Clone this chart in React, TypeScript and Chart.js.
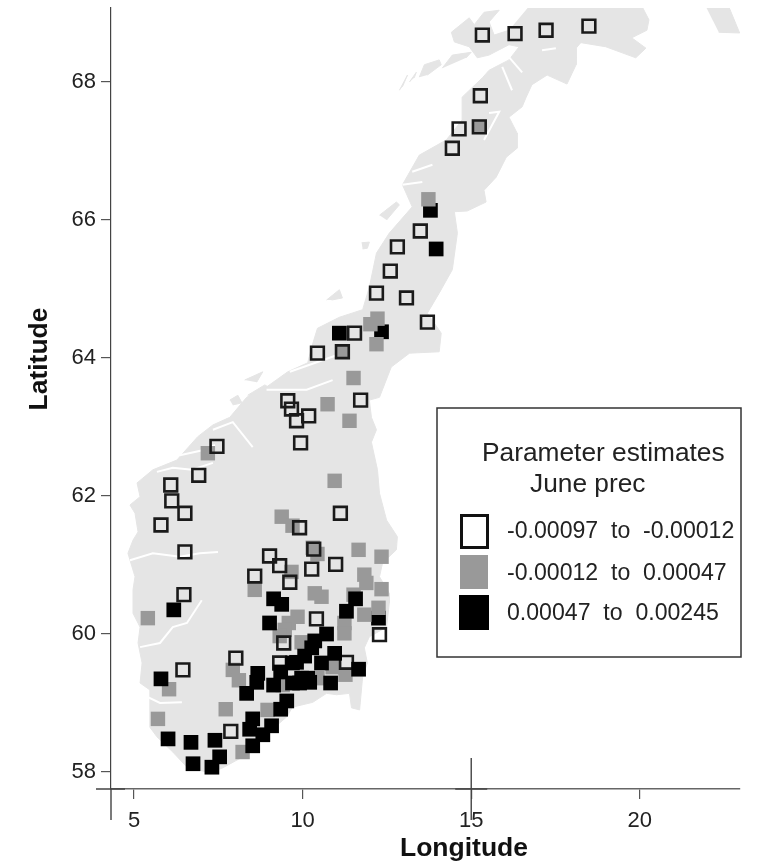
import React, { useEffect, useRef } from "react";
import { Chart, registerables } from "chart.js";

Chart.register(...registerables);

type P = [number, number];

const lonTicks = [5, 10, 15, 20];
const latTicks = [58, 60, 62, 64, 66, 68];
const xTitle = "Longitude";
const yTitle = "Latitude";
const legendTitle = ["Parameter estimates", "June prec"];
const legendLabels = ["-0.00097  to  -0.00012", "-0.00012  to  0.00047", "0.00047  to  0.00245"];

const openSites: P[] = [
  [15.33, 68.68], [16.3, 68.7], [17.22, 68.75], [18.49, 68.81], [15.27, 67.8], [14.64, 67.32], [15.24, 67.35],
  [14.44, 67.04], [13.49, 65.84], [12.81, 65.61], [12.6, 65.26], [12.19, 64.94], [13.08, 64.87], [13.7, 64.52],
  [11.54, 64.36], [10.44, 64.07], [11.18, 64.09], [11.72, 63.39], [9.56, 63.38], [9.67, 63.26], [10.18, 63.16],
  [9.82, 63.09], [9.94, 62.77], [7.46, 62.72], [6.92, 62.3], [6.09, 62.16], [6.12, 61.93], [6.51, 61.75],
  [5.8, 61.58], [11.12, 61.75], [9.91, 61.54], [6.51, 61.19], [10.33, 61.23], [9.02, 61.13], [9.32, 60.99],
  [10.27, 60.94], [10.98, 61.01], [8.58, 60.84], [9.62, 60.75], [6.48, 60.57], [10.41, 60.22], [12.28, 59.99],
  [9.44, 59.87], [6.45, 59.48], [8.02, 59.65], [9.32, 59.58], [11.3, 59.59], [7.87, 58.59],
];

const greySites: P[] = [
  [13.73, 66.3], [15.24, 67.35], [12.22, 64.57], [12.01, 64.49], [12.19, 64.2], [11.51, 63.71], [10.74, 63.33],
  [11.39, 63.09], [11.18, 64.09], [7.19, 62.62], [10.95, 62.22], [9.38, 61.7], [9.7, 61.57], [11.66, 61.22],
  [12.34, 61.12], [10.44, 61.16], [10.3, 61.25], [9.67, 60.9], [8.58, 60.64], [10.36, 60.59], [10.56, 60.54],
  [11.83, 60.86], [11.89, 60.74], [12.34, 60.65], [11.51, 60.57], [11.83, 60.28], [12.25, 60.38], [11.24, 60.16],
  [11.24, 60.01], [9.85, 60.25], [9.59, 60.16], [9.47, 60.06], [9.32, 59.97], [9.97, 59.88], [5.41, 60.23],
  [6.04, 59.2], [7.93, 59.48], [8.11, 59.33], [9.41, 59.26], [10.44, 59.36], [10.89, 59.52], [11.27, 59.41],
  [7.72, 58.91], [5.71, 58.77], [8.96, 58.9], [8.22, 58.29],
];

const blackSitesUnder: P[] = [[13.79, 66.14], [11.09, 64.36], [12.34, 64.38], [12.25, 60.23]];

const blackSites: P[] = [
  [13.96, 65.58], [6.18, 60.35], [5.8, 59.35], [9.14, 60.51], [9.38, 60.43], [9.02, 60.16], [11.57, 60.51],
  [11.3, 60.33], [10.71, 60.0], [10.36, 59.9], [10.27, 59.8], [10.06, 59.68], [9.82, 59.59], [10.95, 59.72],
  [10.56, 59.58], [11.66, 59.49], [10.83, 59.29], [9.35, 59.45], [8.67, 59.43], [8.64, 59.3], [9.14, 59.26],
  [8.34, 59.14], [9.7, 59.29], [9.97, 59.36], [10.15, 59.36], [9.91, 59.29], [10.21, 59.3], [9.53, 59.03],
  [9.35, 58.91], [8.52, 58.77], [8.43, 58.62], [9.08, 58.67], [8.82, 58.54], [8.52, 58.38], [6.01, 58.48],
  [6.69, 58.43], [7.4, 58.46], [7.54, 58.22], [6.75, 58.12], [7.31, 58.07], [9.7, 59.58],
];

const mainland: P[] = [
  [16.72, 69.1], [20.06, 69.1], [20.27, 68.9], [20.21, 68.75], [19.76, 68.64], [20.18, 68.49], [19.88, 68.35],
  [18.99, 68.51], [18.25, 68.57], [18.11, 68.49], [18.11, 68.25], [17.84, 67.97], [17.25, 68.1], [16.8, 67.96],
  [16.63, 67.78], [16.51, 67.64], [16.12, 67.49], [16.36, 67.26], [16.36, 67.04], [16.04, 66.91], [15.74, 66.62],
  [15.38, 66.43], [15.44, 66.26], [14.88, 66.13], [14.5, 66.12], [14.59, 65.81], [14.44, 65.28], [14.05, 64.94],
  [13.7, 64.65], [14.11, 64.36], [14.05, 64.09], [13.17, 64.07], [12.63, 63.87], [12.28, 63.43], [11.98, 63.39],
  [12.04, 63.14], [12.19, 62.96], [12.04, 62.78], [12.22, 62.38], [12.28, 62.04], [12.49, 61.65], [12.81, 61.41],
  [12.78, 61.22], [12.37, 61.03], [12.28, 60.83], [12.57, 60.59], [12.57, 60.45], [12.49, 60.1], [11.98, 59.96],
  [11.83, 59.8], [11.92, 59.58], [11.78, 59.38], [11.69, 58.9], [11.45, 58.93], [11.39, 59.14], [11.01, 59.12],
  [10.71, 59.14], [10.3, 59.01], [9.7, 58.94], [9.53, 58.8], [8.73, 58.46], [8.34, 58.25], [7.63, 58.06],
  [7.25, 57.99], [6.57, 58.07], [6.15, 58.29], [5.68, 58.51], [5.47, 58.65], [5.47, 59.0], [5.47, 59.19],
  [5.18, 59.29], [5.24, 59.58], [5.12, 59.87], [5.18, 60.1], [4.97, 60.3], [4.97, 60.64], [5.03, 60.83],
  [4.82, 61.17], [4.97, 61.36], [5.12, 61.48], [5.03, 61.75], [4.88, 61.87], [5.18, 61.99], [5.09, 62.19],
  [5.56, 62.38], [6.27, 62.52], [6.89, 62.86], [7.34, 63.03], [7.84, 63.14], [8.34, 63.43], [8.93, 63.58],
  [9.56, 63.8], [10.15, 63.93], [10.27, 64.16], [10.44, 64.43], [11.09, 64.59], [11.78, 64.7], [11.98, 65.03],
  [12.19, 65.52], [12.57, 65.81], [13.25, 66.19], [12.96, 66.51], [13.46, 66.94], [14.26, 67.16], [14.73, 67.45],
  [14.73, 67.78], [15.33, 68.06], [15.53, 68.17], [16.12, 68.32], [16.42, 68.51], [16.12, 68.54], [15.53, 68.39],
  [15.18, 68.35], [14.94, 68.51], [14.5, 68.58], [14.41, 68.72], [14.94, 68.93], [15.09, 68.83], [15.38, 69.01],
  [15.83, 69.04], [15.53, 68.87], [15.68, 68.68], [16.12, 68.75],
];

const islands: P[][] = [
  [[14.14, 68.2], [14.44, 68.39], [15.0, 68.43], [14.85, 68.35]],
  [[13.46, 68.07], [13.61, 68.25], [14.05, 68.32], [14.11, 68.25], [13.7, 68.1]],
  [[13.17, 68.0], [13.37, 68.14], [13.31, 68.06]],
  [[12.87, 67.88], [13.11, 68.1], [12.96, 67.93]],
  [[21.95, 69.1], [22.63, 69.1], [22.96, 68.71], [22.34, 68.72]],
  [[11.75, 65.67], [11.98, 65.68], [11.92, 65.59], [11.78, 65.58]],
  [[12.28, 66.07], [12.78, 66.26], [12.87, 66.22], [12.49, 66.0]],
  [[10.71, 64.84], [11.09, 64.99], [11.18, 64.87], [10.86, 64.84]],
  [[8.28, 63.68], [8.82, 63.8], [8.64, 63.65]],
  [[8.37, 63.46], [8.88, 63.61], [9.11, 63.54], [8.67, 63.39]],
  [[7.84, 63.39], [8.08, 63.46], [8.2, 63.35], [7.93, 63.32]],
];

const fjords: P[][] = [
  [[4.88, 61.07], [5.56, 61.17], [6.36, 61.12], [6.95, 61.17], [7.49, 61.19]],
  [[5.68, 62.35], [6.15, 62.41], [6.72, 62.38], [7.34, 62.48]],
  [[6.36, 62.59], [7.1, 62.67], [7.4, 62.74]],
  [[7.34, 62.96], [7.93, 63.07], [8.52, 62.71]],
  [[5.18, 59.81], [5.77, 59.87], [6.15, 60.1], [6.57, 60.16], [7.01, 60.49]],
  [[5.18, 59.14], [5.77, 59.0], [6.42, 59.01]],
  [[9.62, 63.8], [11.01, 64.04]],
  [[8.93, 63.54], [10.12, 63.54], [10.89, 63.68]],
  [[16.12, 68.36], [16.51, 68.14]],
  [[15.92, 68.22], [16.21, 67.88]],
  [[17.1, 68.46], [17.51, 68.49]],
  [[15.53, 67.55], [15.83, 67.57], [15.38, 67.16]],
  [[13.25, 66.7], [13.85, 66.8]],
  [[12.96, 66.51], [13.55, 66.55]],
];

const toXY = (pts: P[]) => pts.map(([x, y]) => ({ x, y }));
const FONT = '"Liberation Sans", Arial, sans-serif';
const LAND = "#e5e5e5";
const INK = "#222222";
const GREY = "#999999";
const AXIS = "#666666";

const decorations = {
  id: "decorations",
  afterDraw(chart: any) {
    const { ctx, scales, chartArea } = chart;
    const x = scales.x;
    ctx.save();
    ctx.strokeStyle = "#444444";
    ctx.lineWidth = 1.4;
    ctx.beginPath();
    ctx.moveTo(chartArea.left, chartArea.bottom);
    ctx.lineTo(chartArea.left, 820);
    ctx.moveTo(96, chartArea.bottom);
    ctx.lineTo(chartArea.left + 14, chartArea.bottom);
    const x15 = x.getPixelForValue(15);
    ctx.moveTo(x15, 758);
    ctx.lineTo(x15, 820);
    ctx.moveTo(x15 - 16, chartArea.bottom);
    ctx.lineTo(x15 + 16, chartArea.bottom);
    ctx.stroke();

    ctx.fillStyle = "#111111";
    ctx.font = `bold 26.5px ${FONT}`;
    ctx.textAlign = "center";
    ctx.textBaseline = "middle";
    ctx.fillText(xTitle, 464, 849);
    ctx.save();
    ctx.translate(40, 359);
    ctx.rotate(-Math.PI / 2);
    ctx.fillText(yTitle, 0, 0);
    ctx.restore();

    ctx.fillStyle = "#ffffff";
    ctx.strokeStyle = "#333333";
    ctx.lineWidth = 1.5;
    ctx.fillRect(437, 408, 304, 249);
    ctx.strokeRect(437, 408, 304, 249);
    ctx.textAlign = "left";
    ctx.textBaseline = "alphabetic";
    ctx.fillStyle = INK;
    ctx.font = `26.3px ${FONT}`;
    ctx.fillText(legendTitle[0], 482, 461);
    ctx.fillText(legendTitle[1], 530, 492);
    ctx.font = `23.1px ${FONT}`;
    ctx.fillText(legendLabels[0], 507, 538);
    ctx.fillText(legendLabels[1], 507, 580);
    ctx.fillText(legendLabels[2], 507, 620);
    ctx.strokeStyle = "#111111";
    ctx.lineWidth = 3;
    ctx.strokeRect(461.5, 515.5, 26, 32);
    ctx.fillStyle = GREY;
    ctx.fillRect(460, 555, 28, 34);
    ctx.fillStyle = "#000000";
    ctx.fillRect(459, 595, 30, 35);
    ctx.restore();
  },
};

const pinScale = (s: any, size: { width?: number; height?: number }) => {
  if (size.width) s.width = size.width;
  if (size.height) s.height = size.height;
  s.paddingTop = 0;
  s.paddingBottom = 0;
  s.paddingLeft = 0;
  s.paddingRight = 0;
};

export default function App() {
  const ref = useRef<HTMLCanvasElement>(null);
  useEffect(() => {
    if (!ref.current) return;
    const filled = (label: string, pts: P[], color: string, radius: number, order: number) => ({
      type: "scatter" as const,
      label,
      data: toXY(pts),
      pointStyle: "rect",
      pointRadius: radius,
      pointBackgroundColor: color,
      pointBorderColor: color,
      pointBorderWidth: 0,
      showLine: false,
      order,
    });
    const chart = new Chart(ref.current, {
      type: "scatter",
      data: {
        datasets: [
          filled("0.00047 to 0.00245", blackSites, "#000000", 10.4, 1),
          {
            type: "scatter",
            label: "-0.00097 to -0.00012",
            data: toXY(openSites),
            pointStyle: "rect",
            pointRadius: 9,
            pointBackgroundColor: "rgba(0,0,0,0)",
            pointBorderColor: "#1a1a1a",
            pointBorderWidth: 2.6,
            showLine: false,
            order: 2,
          },
          filled("-0.00012 to 0.00047", greySites, GREY, 10.2, 3),
          filled("0.00047 to 0.00245 (under)", blackSitesUnder, "#000000", 10.4, 4),
          ...fjords.map((f, i) => ({
            type: "scatter" as const,
            label: `fjord ${i}`,
            data: toXY(f),
            showLine: true,
            borderColor: "#ffffff",
            borderWidth: 2,
            pointRadius: 0,
            fill: false,
            order: 50,
          })),
          ...[mainland, ...islands].map((poly, i) => ({
            type: "scatter" as const,
            label: `land ${i}`,
            data: toXY(poly),
            showLine: true,
            borderColor: LAND,
            backgroundColor: LAND,
            borderWidth: 1,
            pointRadius: 0,
            fill: "shape" as const,
            order: 100,
          })),
        ] as any,
      },
      options: {
        animation: false,
        responsive: false,
        layout: { autoPadding: false, padding: { top: 8, right: 17, left: 0, bottom: 0 } },
        plugins: {
          legend: { display: false },
          tooltip: { enabled: false },
          title: { display: false },
        },
        scales: {
          x: {
            type: "linear",
            min: 4.318,
            max: 22.97,
            afterFit: (s: any) => pinScale(s, { height: 76 }),
            afterBuildTicks: (s: any) => { s.ticks = lonTicks.map((value) => ({ value })); },
            grid: { drawOnChartArea: false, tickLength: 10, color: "#555555", lineWidth: 1.2 },
            border: { color: AXIS, width: 1.6 },
            ticks: { color: INK, font: { family: FONT, size: 22 }, padding: 9, maxRotation: 0, autoSkip: false },
          },
          y: {
            type: "linear",
            min: 57.754,
            max: 69.072,
            afterFit: (s: any) => pinScale(s, { width: 111 }),
            afterBuildTicks: (s: any) => { s.ticks = latTicks.map((value) => ({ value })); },
            grid: { drawOnChartArea: false, tickLength: 10, color: "#555555", lineWidth: 1.2 },
            border: { color: "#444444", width: 1.2 },
            ticks: { color: INK, font: { family: FONT, size: 22 }, padding: 5, autoSkip: false },
          },
        },
      },
      plugins: [decorations],
    } as any);
    return () => chart.destroy();
  }, []);
  return (
    <canvas
      ref={ref}
      width={757}
      height={865}
      style={{ position: "absolute", left: 0, top: 0, display: "block", background: "#ffffff" }}
    />
  );
}
